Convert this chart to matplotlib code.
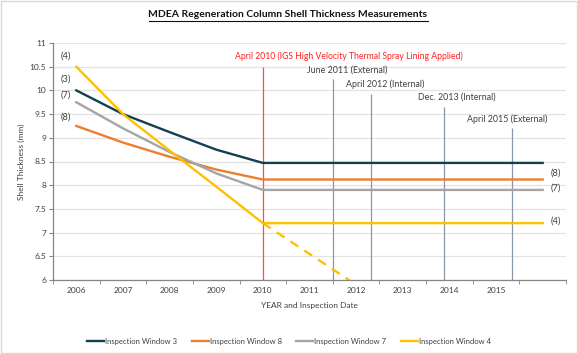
import numpy as np
import matplotlib
matplotlib.use('Agg')
import matplotlib.pyplot as plt
from matplotlib.patches import Rectangle

plt.rcParams['font.family'] = ['Lato', 'DejaVu Sans']

# categories (last one is an empty category on the Excel axis)
years = ['2006', '2007', '2008', '2009', '2010', '2011', '2012', '2013', '2014', '2015', '']

win3 = [10.0, 9.5, 9.12, 8.75, 8.47, 8.47, 8.47, 8.47, 8.47, 8.47, 8.47]
win8 = [9.25, 8.9, 8.6, 8.33, 8.12, 8.12, 8.12, 8.12, 8.12, 8.12, 8.12]
win7 = [9.75, 9.2, 8.7, 8.25, 7.9, 7.9, 7.9, 7.9, 7.9, 7.9, 7.9]
win4 = [10.5, 9.5, 8.73, 7.97, 7.2, 7.2, 7.2, 7.2, 7.2, 7.2, 7.2]
win4_proj = [7.2, 6.55, 5.9]   # 2010 -> 2012 projected without lining

# inspection events: position on category axis, line top, label
insp_pos = [5.5, 6.32, 7.89, 9.35]
insp_top = [10.24, 9.92, 9.65, 9.2]
insp_lbl = ['June 2011 (External)', 'April 2012 (Internal)',
            'Dec. 2013 (Internal)', 'April 2015 (External)']
insp_lbl_x = [5.81, 6.62, 8.15, 9.24]
insp_lbl_y = [10.43, 10.13, 9.86, 9.4]

lining_pos = 4.0
lining_top = 10.5
lining_lbl = 'April 2010 (IGS High Velocity Thermal Spray Lining Applied)'

names = ['Inspection Window 3', 'Inspection Window 8', 'Inspection Window 7', 'Inspection Window 4']
colors = ['#12404F', '#ED7D31', '#A5A5A5', '#FFC000']
left_tags = ['(3)', '(8)', '(7)', '(4)']
left_tag_y = [10.24, 9.44, 9.9, 10.72]
right_tags = ['', '(8)', '(7)', '(4)']
right_tag_y = [0, 8.26, 7.94, 7.24]

txt = '#404040'

fig = plt.figure(figsize=(5.78, 3.54), dpi=100)
ax = fig.add_axes([53 / 578, 74 / 354, 513 / 578, 237 / 354])

x = np.arange(len(years))
ax.set_xlim(-0.5, len(years) - 0.5)
ax.set_ylim(6, 11)
ax.set_yticks(np.arange(6, 11.01, 0.5))
ax.set_yticklabels(['6', '6.5', '7', '7.5', '8', '8.5', '9', '9.5', '10', '10.5', '11'])
ax.yaxis.grid(True, color='#E3E3E3', lw=0.9)
ax.set_axisbelow(True)

ax.set_xticks(x)
ax.set_xticklabels(years)
ax.set_xticks(np.arange(-0.5, len(years)), minor=True)
ax.tick_params(axis='x', which='major', length=0, labelsize=6, colors=txt, pad=5)
ax.tick_params(axis='x', which='minor', length=3, color='#868686')
ax.tick_params(axis='y', length=3, color='#868686', labelsize=6, colors=txt, pad=2)

for s in ['top', 'right']:
    ax.spines[s].set_visible(False)
for s in ['left', 'bottom']:
    ax.spines[s].set_color('#868686')
    ax.spines[s].set_linewidth(0.9)

# inspection lines
ax.vlines(lining_pos, 6, lining_top, color='#FF4B4B', lw=0.9, zorder=3)
ax.text(5.85, 10.72, lining_lbl, color='#FF2020', fontsize=6.2, va='center', ha='center')
for p, t, l, lx, ly in zip(insp_pos, insp_top, insp_lbl, insp_lbl_x, insp_lbl_y):
    ax.vlines(p, 6, t, color='#8A97A8', lw=0.9, zorder=3)
    ax.text(lx, ly, l, color=txt, fontsize=6.4, va='center', ha='center')

lines = []
for vals, c, n in zip([win3, win8, win7, win4], colors, names):
    h, = ax.plot(x, vals, color=c, lw=1.7, label=n, zorder=4)
    lines.append(h)
ax.plot(x[4:4 + len(win4_proj)], win4_proj, color=colors[3], lw=1.7, ls=(0, (4, 3)), zorder=4)

for tag, ty in zip(left_tags, left_tag_y):
    ax.text(-0.22, ty, tag, color=txt, fontsize=6.6, va='center', ha='center')
for tag, ty in zip(right_tags, right_tag_y):
    if tag:
        ax.text(10.18, ty, tag, color=txt, fontsize=6.6, va='center', ha='left')

ax.set_ylabel('Shell Thickness (mm)', fontsize=6, color=txt, labelpad=3)
ax.set_xlabel('YEAR and Inspection Date', fontsize=6, color=txt, labelpad=6)

title = fig.text(288 / 578, 0.958, 'MDEA Regeneration Column Shell Thickness Measurements',
                 ha='center', va='center', fontsize=7.5, fontweight='bold', color='#111111')
fig.canvas.draw()
bb = title.get_window_extent().transformed(fig.transFigure.inverted())
fig.add_artist(plt.Line2D([bb.x0, bb.x1], [bb.y0 - 0.004, bb.y0 - 0.004], color='#111111', lw=0.8))

fig.legend(handles=lines, loc='center', bbox_to_anchor=(0.5, 0.036), ncol=4, frameon=False,
           fontsize=5.5, handlelength=2.2, handletextpad=0.15, columnspacing=1.9,
           labelcolor=txt)

fig.add_artist(Rectangle((0.001, 0.002), 0.997, 0.995, transform=fig.transFigure,
                         fill=False, ec='#D9D9D9', lw=1))

fig.savefig('out.png', dpi=100)
